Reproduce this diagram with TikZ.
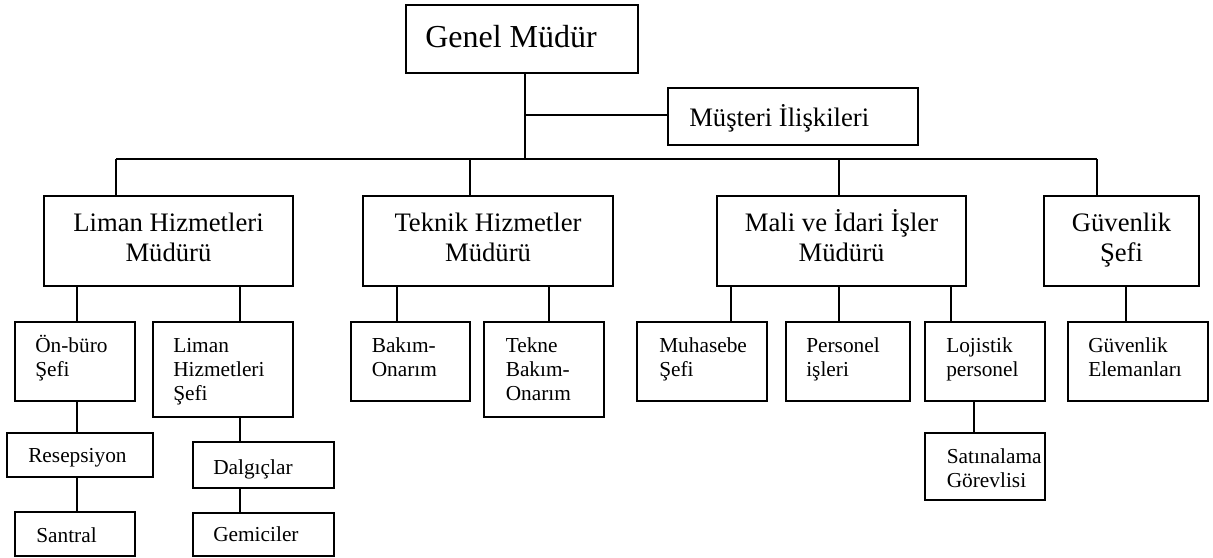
\documentclass[tikz,border=0pt]{standalone}
\usepackage{fontspec}
\setmainfont{Liberation Serif}
\usetikzlibrary{fit}
\begin{document}
\begin{tikzpicture}[x=0.75pt,y=-0.75pt,
  box/.style={draw, line width=1.1pt, inner sep=0pt},
  link/.style={line width=1.1pt},
  big/.style={font=\fontsize{24pt}{27.6pt}\selectfont, inner sep=0pt},
  mid/.style={font=\fontsize{20pt}{23pt}\selectfont, inner sep=0pt},
  small/.style={font=\fontsize{16pt}{18.4pt}\selectfont, inner sep=0pt},
]
\useasboundingbox (0,0) rectangle (1213,557);

% ---- boxes ----
\node[box, fit={(406,5) (638,73)}] (gm) {};
\node[box, fit={(668,88) (918,145)}] (mi) {};
\node[box, fit={(44,196) (293,286)}] (lhm) {};
\node[box, fit={(363,196) (613,286)}] (thm) {};
\node[box, fit={(717,196) (966,286)}] (mim) {};
\node[box, fit={(1044,196) (1199,286)}] (gs) {};
\node[box, fit={(15,322) (135,401)}] (onb) {};
\node[box, fit={(153,322) (293,417)}] (lhs) {};
\node[box, fit={(7,433) (153,477)}] (res) {};
\node[box, fit={(15,512) (135,556)}] (san) {};
\node[box, fit={(193,442) (334,488)}] (dal) {};
\node[box, fit={(193,513) (334,556)}] (gem) {};
\node[box, fit={(351,322) (470,401)}] (bak) {};
\node[box, fit={(484,322) (604,417)}] (tek) {};
\node[box, fit={(637,322) (767,401)}] (muh) {};
\node[box, fit={(786,322) (910,401)}] (per) {};
\node[box, fit={(925,322) (1045,401)}] (loj) {};
\node[box, fit={(925,433) (1045,500)}] (sat) {};
\node[box, fit={(1068,322) (1208,401)}] (gel) {};

% ---- texts ----
\node[big, anchor=base west] (gm-t) at (425,47) {Genel Müdür};
\node[mid, anchor=base west] (mi-t) at (689,126) {Müşteri İlişkileri};

\node[mid, anchor=base] (lhm-t1) at (168.5,231.5) {Liman Hizmetleri};
\node[mid, anchor=base] (lhm-t2) at (168.5,261.5) {Müdürü};
\node[mid, anchor=base] (thm-t1) at (488,231.5) {Teknik Hizmetler};
\node[mid, anchor=base] (thm-t2) at (488,261.5) {Müdürü};
\node[mid, anchor=base] (mim-t1) at (841.5,231.5) {Mali ve İdari İşler};
\node[mid, anchor=base] (mim-t2) at (841.5,261.5) {Müdürü};
\node[mid, anchor=base] (gs-t1) at (1121.5,231.5) {Güvenlik};
\node[mid, anchor=base] (gs-t2) at (1121.5,261.5) {Şefi};

\node[small, anchor=base west] (onb-t1) at (35,352.5) {Ön-büro};
\node[small, anchor=base west] (onb-t2) at (35,376.5) {Şefi};
\node[small, anchor=base west] (lhs-t1) at (173,352.5) {Liman};
\node[small, anchor=base west] (lhs-t2) at (173,376.5) {Hizmetleri};
\node[small, anchor=base west] (lhs-t3) at (173,400.5) {Şefi};
\node[small, anchor=base west] (res-t) at (28,462.5) {Resepsiyon};
\node[small, anchor=base west] (san-t) at (36,542.5) {Santral};
\node[small, anchor=base west] (dal-t) at (213,474) {Dalgıçlar};
\node[small, anchor=base west] (gem-t) at (213,541.5) {Gemiciler};

\node[small, anchor=base west] (bak-t1) at (371.5,352.5) {Bakım-};
\node[small, anchor=base west] (bak-t2) at (371.5,376.5) {Onarım};
\node[small, anchor=base west] (tek-t1) at (505.5,352.5) {Tekne};
\node[small, anchor=base west] (tek-t2) at (505.5,376.5) {Bakım-};
\node[small, anchor=base west] (tek-t3) at (505.5,400.5) {Onarım};

\node[small, anchor=base west] (muh-t1) at (659,352.5) {Muhasebe};
\node[small, anchor=base west] (muh-t2) at (659,376.5) {Şefi};
\node[small, anchor=base west] (per-t1) at (806,352.5) {Personel};
\node[small, anchor=base west] (per-t2) at (806,376.5) {işleri};
\node[small, anchor=base west] (loj-t1) at (946,352.5) {Lojistik};
\node[small, anchor=base west] (loj-t2) at (946,376.5) {personel};
\node[small, anchor=base west] (sat-t1) at (946.5,463.5) {Satınalama};
\node[small, anchor=base west] (sat-t2) at (946.5,487.5) {Görevlisi};

\node[small, anchor=base west] (gel-t1) at (1088,352.5) {Güvenlik};
\node[small, anchor=base west] (gel-t2) at (1088,376.5) {Elemanları};

% ---- connector positions ----
\coordinate (j)  at (525,159);
\coordinate (mj) at (525,115);
\coordinate (dL) at (116,159);
\coordinate (dT) at (470,159);
\coordinate (dM) at (839,159);
\coordinate (dG) at (1097,159);
\coordinate (cOnb) at (77,0);
\coordinate (cLhs) at (240,0);
\coordinate (cBak) at (397,0);
\coordinate (cTek) at (549,0);
\coordinate (cMuh) at (731,0);
\coordinate (cPer) at (839,0);
\coordinate (cLoj) at (951,0);
\coordinate (cSat) at (974,0);
\coordinate (cGel) at (1126,0);

% ---- connectors ----
\draw[link] (gm.south -| j) -- (j);
\draw[link] (mj) -- (mi.west |- mj);
\draw[link] (dL) -- (dG);
\draw[link] (dL) -- (lhm.north -| dL);
\draw[link] (dT) -- (thm.north -| dT);
\draw[link] (dM) -- (mim.north -| dM);
\draw[link] (dG) -- (gs.north -| dG);

\draw[link] (lhm.south -| cOnb) -- (onb.north -| cOnb);
\draw[link] (onb.south -| cOnb) -- (res.north -| cOnb);
\draw[link] (res.south -| cOnb) -- (san.north -| cOnb);
\draw[link] (lhm.south -| cLhs) -- (lhs.north -| cLhs);
\draw[link] (lhs.south -| cLhs) -- (dal.north -| cLhs);
\draw[link] (dal.south -| cLhs) -- (gem.north -| cLhs);

\draw[link] (thm.south -| cBak) -- (bak.north -| cBak);
\draw[link] (thm.south -| cTek) -- (tek.north -| cTek);

\draw[link] (mim.south -| cMuh) -- (muh.north -| cMuh);
\draw[link] (mim.south -| cPer) -- (per.north -| cPer);
\draw[link] (mim.south -| cLoj) -- (loj.north -| cLoj);
\draw[link] (loj.south -| cSat) -- (sat.north -| cSat);

\draw[link] (gs.south -| cGel) -- (gel.north -| cGel);
\end{tikzpicture}
\end{document}
